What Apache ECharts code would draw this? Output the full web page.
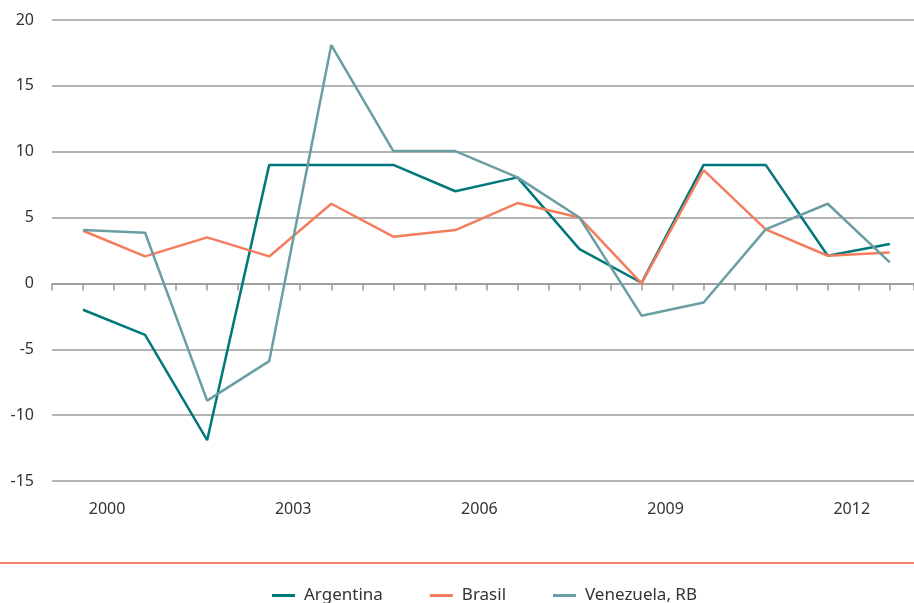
<!DOCTYPE html>
<html>
<head>
<meta charset="utf-8">
<script src="https://cdn.jsdelivr.net/npm/echarts@6/dist/echarts.min.js"></script>
<style>
  html, body { margin: 0; padding: 0; background: #fff; }
  #main { width: 914px; height: 603px; }
</style>
</head>
<body>
<div id="main"></div>
<script>
// years and values
var years = [2000, 2001, 2002, 2003, 2004, 2005, 2006, 2007, 2008, 2009, 2010, 2011, 2012, 2013];
var argentina = [-2, -3.9, -11.9, 9, 9, 9, 7, 8.05, 2.6, 0.05, 9, 9, 2.1, 3];
var brasil = [4, 2.05, 3.5, 2.05, 6.05, 3.55, 4.05, 6.1, 5, 0, 8.6, 4.1, 2.1, 2.35];
var venezuela = [4.05, 3.85, -8.9, -5.9, 18.1, 10.05, 10.05, 8.05, 5, -2.45, -1.45, 4.1, 6.05, 1.6];
var yTicks = [-15, -10, -5, 0, 5, 10, 15, 20];
var labelYears = [2000, 2003, 2006, 2009, 2012];

function pairs(vals) {
    return years.map(function (y, i) { return [y, vals[i]]; });
}

var myChart = echarts.init(document.getElementById('main'));
var axisGray = '#9a9a9a';
var font = 'Noto Sans';

var option = {
    animation: false,
    textStyle: { fontFamily: font },
    grid: { left: 52, right: 0, top: 20, bottom: 122 },
    legend: {
        left: 267,
        top: 582,
        itemWidth: 23,
        itemHeight: 3,
        itemGap: 47,
        icon: 'rect',
        textStyle: { fontSize: 17, color: '#333', fontFamily: font, padding: [0, 0, 0, 4] },
        data: ['Argentina', 'Brasil', 'Venezuela, RB']
    },
    xAxis: [{
        type: 'value',
        min: 1999.5,
        max: 2013.39,
        interval: 0.5,
        axisLine: { show: true, onZero: true, lineStyle: { color: axisGray, width: 1.5 } },
        axisTick: { show: true, length: 7, lineStyle: { color: axisGray, width: 1.5 } },
        axisLabel: { show: false },
        splitLine: { show: false }
    }, {
        type: 'value',
        position: 'bottom',
        min: 1999.5,
        max: 2013.39,
        interval: 0.5,
        axisLine: { show: false, onZero: false },
        axisTick: { show: false },
        splitLine: { show: false },
        axisLabel: {
            margin: 20,
            fontSize: 16,
            color: '#333',
            fontFamily: font,
            padding: [0, 0, 0, 48],
            showMaxLabel: false,
            formatter: function (v) {
                return labelYears.indexOf(v) >= 0 ? String(v) : '';
            }
        }
    }],
    yAxis: {
        type: 'value',
        min: yTicks[0],
        max: yTicks[yTicks.length - 1],
        interval: 5,
        axisLine: { show: false },
        axisTick: { show: false },
        axisLabel: { margin: 18, fontSize: 16, color: '#333', fontFamily: font },
        splitLine: { lineStyle: { color: axisGray, width: 1.5 } }
    },
    graphic: [{
        type: 'line',
        shape: { x1: 0, y1: 563, x2: 914, y2: 563 },
        style: { stroke: '#f0856a', lineWidth: 2 }
    }],
    series: [{
        name: 'Argentina',
        type: 'line',
        symbol: 'none',
        data: pairs(argentina),
        lineStyle: { color: '#00787a', width: 2.5 },
        itemStyle: { color: '#00787a' }
    }, {
        name: 'Brasil',
        type: 'line',
        symbol: 'none',
        data: pairs(brasil),
        lineStyle: { color: '#f47d5e', width: 2.5 },
        itemStyle: { color: '#f47d5e' }
    }, {
        name: 'Venezuela, RB',
        type: 'line',
        symbol: 'none',
        data: pairs(venezuela),
        lineStyle: { color: '#6a9ea2', width: 2.5 },
        itemStyle: { color: '#6a9ea2' }
    }]
};

myChart.setOption(option);
</script>
</body>
</html>
